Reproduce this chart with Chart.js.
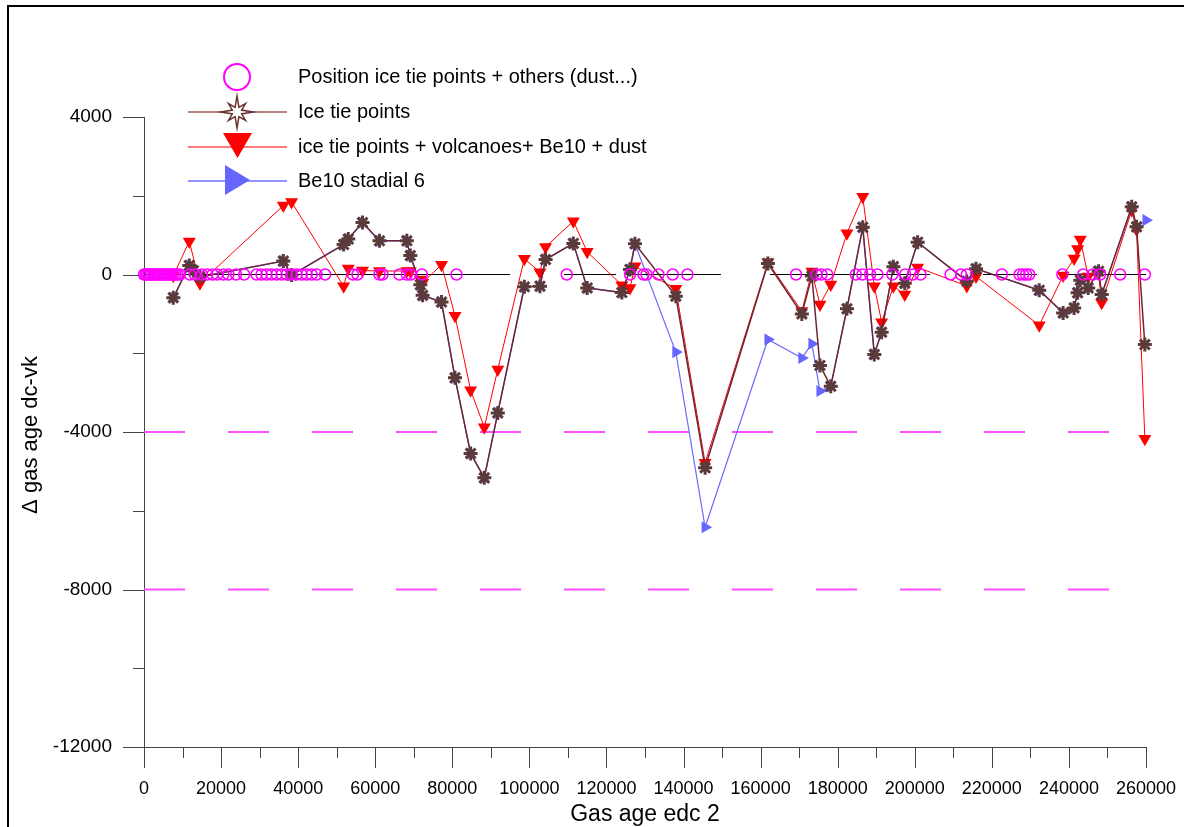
<!DOCTYPE html>
<html>
<head>
<meta charset="utf-8">
<script src="https://cdn.jsdelivr.net/npm/chart.js@4"></script>
<style>
  body { margin: 0; padding: 0; background: #fff; }
  #wrap { width: 1184px; height: 827px; }
</style>
</head>
<body>
<div id="wrap"><canvas id="myChart" width="1184" height="827"></canvas></div>
<script>
// gas age (edc 2) of the tie points
const tieAge = [7600, 11750, 12800, 14500, 36150, 38300, 51800, 53000, 56700, 61100, 68200, 69100, 71700, 72300,
  77200, 80700, 84750, 88300, 91800, 98700, 102750, 104200, 111400, 115000, 124000, 126100, 127400, 138000,
  145600, 161900, 170700, 173300, 175400, 178200, 182400, 186500, 189500, 191400, 194450, 197400, 200750,
  213500, 215900, 232300, 238500, 241350, 242250, 242950, 245000, 247700, 248500, 256300, 257550, 259700];

// delta gas age dc-vk, ice tie points only
const iceTie = [-590, 230, 100, -60, 340, -15, 760, 900, 1320, 855, 855, 480, -260, -530,
  -700, -2625, -4545, -5165, -3515, -313, -297, 380, 790, -340, -460, 127, 780, -550,
  -4910, 280, -1000, -40, -2310, -2840, -870, 1200, -2030, -1465, 200, -220, 820,
  -170, 145, -400, -975, -850, -465, -145, -340, 85, -510, 1720, 1210, -1780];

// ice tie points + volcanoes + Be10 + dust
const allTie = [-30, 840, null, -220, 1750, 1840, -300, 150, 100, 90, 90, 80, -130, -210,
  250, -1050, -2940, -3880, -2410, 400, 60, 700, 1355, 575, -270, -340, 210, -365,
  -4780, 310, -930, 75, -760, -255, 1050, 1975, -297, -1210, -297, -510, 180,
  -290, -50, -1290, -25, 405, 650, 890, -50, 30, -720, 1630, 1140, -4170];

// Be10 stadial 6
const be10Age = [7600, 11750, 12800, 14500, 36150, 38300, 51800, 53000, 56700, 61100, 68200, 69100, 71700, 72300,
  77200, 80700, 84750, 88300, 91800, 98700, 102750, 104200, 111400, 115000, 124000, 126100, 127400, 138000,
  145600, 161900, 170700, 173300, 175400, 178200, 182400, 186500, 189500, 191400, 194450, 197400, 200750,
  213500, 215900, 232300, 238500, 241350, 242250, 242950, 245000, 247700, 248500, 256300, 257550, 260000];
const be10 = [-590, 230, 100, -60, 340, -15, 760, 900, 1320, 855, 855, 480, -260, -530,
  -700, -2625, -4545, -5165, -3515, -313, -297, 380, 790, -340, -460, 127, 780, -1970,
  -6420, -1650, -2120, -1760, -2960, -2840, -870, 1200, -2030, -1465, 200, -220, 820,
  -170, 145, -400, -975, -850, -465, -145, -340, 85, -510, 1720, 1210, 1380];

// positions of ice tie points + others (all at 0)
const posAge = [0, 400, 800, 1200, 1700, 2100, 2600, 3000, 3500, 3900, 4400, 4900, 5300, 5800, 6300, 6800,
  7200, 7700, 8200, 8700, 9300, 11900, 13200, 15000, 16400, 17800, 19000, 20600, 21900, 23900, 26000,
  29200, 30500, 31800, 33100, 34400, 35700, 37000, 38300, 39600, 40900, 42200, 43500, 44800, 47000,
  54200, 55400, 61100, 61900, 66300, 68200, 69200, 72100, 81100, 109700, 126100, 129600, 130400,
  133500, 137200, 141000, 169200, 174500, 175800, 177300, 184700, 186400, 188400, 190300, 194200,
  197500, 199500, 201500, 209300, 212000, 213500, 222600, 227200, 228100, 228900, 229700, 238300,
  243700, 246200, 248100, 253300, 259700];

// black zero line pieces
const zeroSegments = [[0, 95000], [109000, 122500], [125300, 149700], [162400, 204000], [217700, 231700], [237700, 260000]];
// magenta dashed reference levels
const dashLevels = [-4000, -8000];
const dashEnd = 250500;

const xTicks = [0, 20000, 40000, 60000, 80000, 100000, 120000, 140000, 160000, 180000, 200000, 220000, 240000, 260000];
const yTicks = [4000, 0, -4000, -8000, -12000];

const legendLabels = ['Position ice tie points + others (dust...)', 'Ice tie points',
  'ice tie points + volcanoes+ Be10 + dust', 'Be10 stadial 6'];

const FONT = '"Liberation Sans", Arial, sans-serif';

const pts = (xs, ys) => xs.map((x, i) => ({ x: x, y: ys[i] }));
const zeroData = [];
zeroSegments.forEach((s, i) => {
  if (i > 0) zeroData.push({ x: (zeroSegments[i - 1][1] + s[0]) / 2, y: null });
  zeroData.push({ x: s[0], y: 0 }, { x: s[1], y: 0 });
});

const axesPlugin = {
  id: 'axesPlugin',
  beforeDatasetsDraw(chart) {
    const ctx = chart.ctx;
    const xs = chart.scales.x, ys = chart.scales.y;
    const a = chart.chartArea;
    ctx.save();
    // outer frame
    ctx.strokeStyle = '#000';
    ctx.lineWidth = 2;
    ctx.strokeRect(8, 6, 1200, 900);
    // axes
    ctx.strokeStyle = '#444';
    ctx.lineWidth = 1;
    ctx.beginPath();
    ctx.moveTo(a.left + 0.5, a.top); ctx.lineTo(a.left + 0.5, a.bottom);
    ctx.moveTo(a.left, a.bottom + 0.5); ctx.lineTo(a.right, a.bottom + 0.5);
    for (let v = -12000; v <= 4000; v += 2000) {
      const y = Math.round(ys.getPixelForValue(v)) + 0.5;
      const len = (v % 4000 === 0) ? 21 : 11;
      ctx.moveTo(a.left - len, y); ctx.lineTo(a.left, y);
    }
    for (let v = 0; v <= 260000; v += 10000) {
      const x = Math.round(xs.getPixelForValue(v)) + 0.5;
      const len = (v % 20000 === 0) ? 21 : 11;
      ctx.moveTo(x, a.bottom); ctx.lineTo(x, a.bottom + len);
    }
    ctx.stroke();
    // labels
    ctx.fillStyle = '#000';
    ctx.font = '19px ' + FONT;
    ctx.textAlign = 'right';
    ctx.textBaseline = 'middle';
    yTicks.forEach(v => ctx.fillText(String(v), 112, ys.getPixelForValue(v)));
    ctx.font = '18px ' + FONT;
    ctx.textAlign = 'center';
    xTicks.forEach(v => ctx.fillText(String(v), xs.getPixelForValue(v), 789));
    ctx.font = '23px ' + FONT;
    ctx.fillText('Gas age edc 2', 645, 815);
    ctx.save();
    ctx.translate(31, 435);
    ctx.rotate(-Math.PI / 2);
    ctx.font = '22px ' + FONT;
    ctx.fillText('\u0394 gas age dc-vk', 0, 0);
    ctx.restore();
    ctx.restore();
  },
  afterDraw(chart) {
    const ctx = chart.ctx;
    ctx.save();
    const rows = [77, 112, 147, 181];
    // circle
    ctx.strokeStyle = '#ff00ff';
    ctx.lineWidth = 2;
    ctx.beginPath(); ctx.arc(237, rows[0], 13, 0, Math.PI * 2); ctx.stroke();
    // ice tie points
    ctx.strokeStyle = '#a05a5a'; ctx.lineWidth = 1.5;
    ctx.beginPath(); ctx.moveTo(188, rows[1]); ctx.lineTo(287, rows[1]); ctx.stroke();
    ctx.beginPath();
    for (let k = 0; k < 16; k++) {
      const ang = k * Math.PI / 8 - Math.PI / 2;
      const r = (k % 2) ? 5 : ((k % 4 === 0) ? 16 : 12);
      const px = 237 + Math.cos(ang) * r, py = rows[1] + Math.sin(ang) * r;
      if (k === 0) ctx.moveTo(px, py); else ctx.lineTo(px, py);
    }
    ctx.closePath();
    ctx.fillStyle = '#fff'; ctx.fill();
    ctx.strokeStyle = '#6b3030'; ctx.lineWidth = 1.5; ctx.stroke();
    // red
    ctx.strokeStyle = '#ff5050'; ctx.lineWidth = 1.5;
    ctx.beginPath(); ctx.moveTo(188, rows[2]); ctx.lineTo(287, rows[2]); ctx.stroke();
    ctx.fillStyle = '#ff0000';
    ctx.beginPath(); ctx.moveTo(223, 133); ctx.lineTo(252, 133); ctx.lineTo(237.5, 158); ctx.closePath(); ctx.fill();
    // blue
    ctx.strokeStyle = '#7070ff';
    ctx.beginPath(); ctx.moveTo(188, rows[3]); ctx.lineTo(287, rows[3]); ctx.stroke();
    ctx.fillStyle = '#6666ff';
    ctx.beginPath(); ctx.moveTo(225, 165); ctx.lineTo(250, 180); ctx.lineTo(225, 195); ctx.closePath(); ctx.fill();
    // texts
    ctx.fillStyle = '#000';
    ctx.font = '20px ' + FONT;
    ctx.textAlign = 'left';
    ctx.textBaseline = 'middle';
    legendLabels.forEach((t, i) => ctx.fillText(t, 298, rows[i]));
    ctx.restore();
  }
};

const dashSets = dashLevels.map(v => ({
  label: 'level ' + v,
  data: [{ x: 0, y: v }, { x: dashEnd, y: v }],
  borderColor: '#ff4dff',
  borderWidth: 2,
  borderDash: [41, 43],
  pointRadius: 0,
  clip: false
}));

new Chart(document.getElementById('myChart'), {
  type: 'line',
  data: {
    datasets: [
      {
        label: legendLabels[0],
        data: posAge.map(x => ({ x: x, y: 0 })),
        showLine: false,
        pointStyle: 'circle',
        pointRadius: 5.5,
        pointBorderWidth: 1.5,
        pointBorderColor: '#ff00ff',
        pointBackgroundColor: 'rgba(0,0,0,0)',
        clip: false
      },
      {
        label: legendLabels[1],
        data: pts(tieAge, iceTie),
        borderColor: '#6b2636',
        borderWidth: 1.5,
        pointStyle: 'star',
        pointRadius: 7,
        pointBorderWidth: 3,
        pointBorderColor: '#5a3a3a',
        pointBackgroundColor: '#5a3a3a',
        clip: false
      },
      {
        label: legendLabels[2],
        data: pts(tieAge, allTie),
        spanGaps: true,
        borderColor: '#ff0000',
        borderWidth: 1,
        pointStyle: 'triangle',
        rotation: 180,
        pointRadius: 7.5,
        pointBorderWidth: 0,
        pointBackgroundColor: '#ff0000',
        clip: false
      },
      {
        label: 'zero',
        data: zeroData,
        borderColor: '#000',
        borderWidth: 1,
        pointRadius: 0,
        spanGaps: false,
        clip: false
      },
      {
        label: legendLabels[3],
        data: pts(be10Age, be10),
        borderColor: '#6a6aff',
        borderWidth: 1.2,
        pointStyle: 'triangle',
        rotation: 90,
        pointRadius: 7,
        pointBorderWidth: 0,
        pointBackgroundColor: '#6666ff',
        clip: false
      },
      ...dashSets
    ]
  },
  options: {
    responsive: false,
    animation: false,
    layout: { padding: { left: 144, right: 38, top: 117, bottom: 80 } },
    plugins: { legend: { display: false }, tooltip: { enabled: false } },
    elements: { line: { tension: 0 } },
    scales: {
      x: { type: 'linear', min: 0, max: 260000, display: false },
      y: { type: 'linear', min: -12000, max: 4000, display: false }
    }
  },
  plugins: [axesPlugin]
});
</script>
</body>
</html>
